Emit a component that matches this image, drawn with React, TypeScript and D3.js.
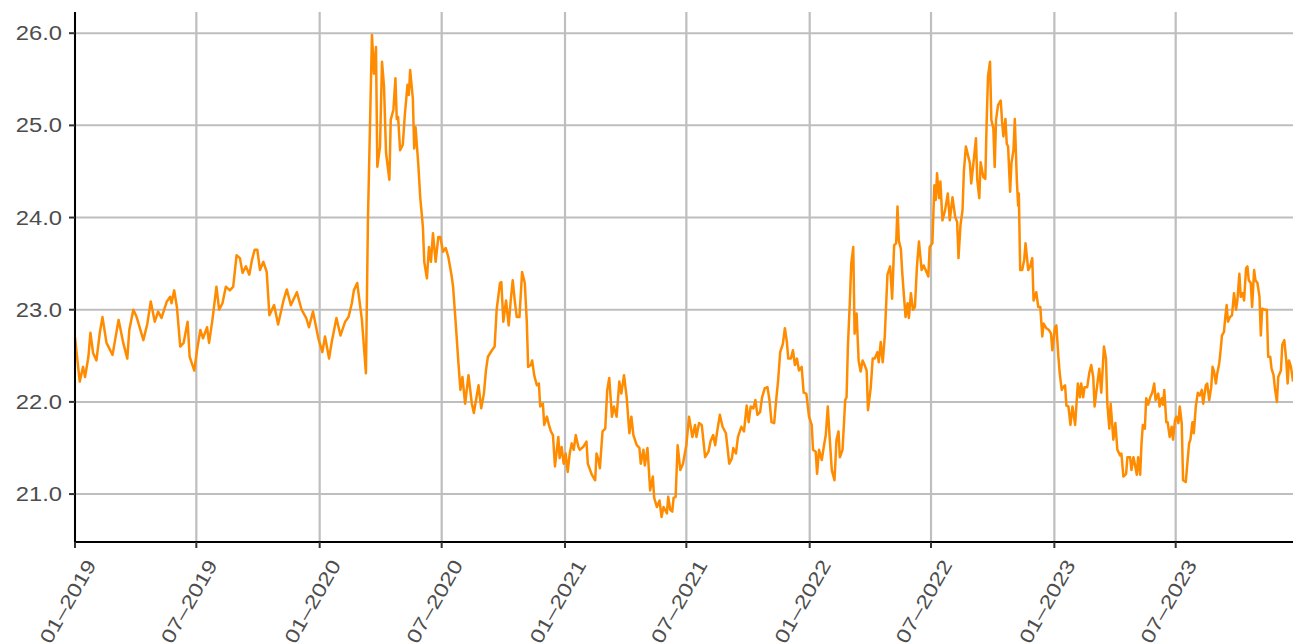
import React from "react";
import * as d3 from "d3";

// days since 2019-01-01
const dayOffsets: number[] = [
  0, 7, 12, 15, 20, 23, 27, 32, 37, 41, 47, 56, 65, 72, 78, 81, 87, 92, 102, 108,
  113, 119, 124, 129, 137, 142, 144, 148, 152, 157, 162, 168, 171, 178, 182, 187, 191, 197, 200, 205,
  211, 215, 220, 225, 231, 236, 241, 246, 250, 255, 260, 264, 268, 272, 276, 281, 286, 290, 297, 303,
  311, 316, 322, 331, 338, 345, 349, 355, 363, 369, 373, 379, 383, 390, 396, 403, 408, 413, 416, 421,
  428, 434, 437, 443, 446, 449, 451, 455, 458, 461, 464, 469, 471, 475, 478, 480, 482, 485, 489, 492,
  496, 498, 500, 504, 506, 508, 512, 515, 519, 521, 525, 528, 531, 534, 538, 542, 545, 549, 553, 557,
  562, 564, 568, 572, 575, 578, 582, 587, 592, 595, 602, 606, 610, 613, 616, 622, 626, 629, 634, 636,
  639, 643, 647, 650, 653, 656, 659, 663, 667, 671, 674, 676, 680, 682, 685, 689, 692, 694, 698, 700,
  704, 707, 710, 713, 716, 721, 723, 726, 729, 732, 735, 738, 741, 744, 747, 751, 753, 758, 763, 765,
  771, 776, 778, 781, 783, 787, 791, 794, 797, 801, 804, 808, 812, 815, 819, 823, 827, 830, 833, 838,
  842, 844, 848, 850, 854, 858, 862, 864, 868, 872, 875, 878, 883, 885, 888, 891, 893, 896, 899, 903,
  907, 912, 916, 921, 925, 927, 931, 935, 940, 945, 948, 952, 955, 958, 962, 966, 971, 976, 980, 982,
  986, 989, 994, 998, 1002, 1005, 1008, 1012, 1015, 1018, 1022, 1025, 1029, 1033, 1036, 1039, 1043, 1046, 1049, 1052,
  1056, 1059, 1062, 1064, 1068, 1071, 1074, 1077, 1080, 1084, 1087, 1091, 1095, 1099, 1101, 1105, 1107, 1110, 1114, 1117,
  1120, 1123, 1126, 1129, 1133, 1136, 1139, 1141, 1145, 1149, 1151, 1153, 1156, 1158, 1161, 1163, 1166, 1169, 1172, 1175,
  1178, 1181, 1183, 1187, 1190, 1193, 1197, 1199, 1202, 1205, 1208, 1212, 1216, 1219, 1222, 1225, 1227, 1229, 1232, 1234,
  1236, 1239, 1242, 1244, 1247, 1250, 1253, 1256, 1259, 1263, 1266, 1269, 1273, 1275, 1279, 1282, 1284, 1286, 1289, 1291,
  1294, 1298, 1302, 1305, 1309, 1313, 1316, 1318, 1321, 1324, 1326, 1329, 1332, 1335, 1337, 1341, 1344, 1346, 1349, 1351,
  1355, 1358, 1360, 1362, 1365, 1367, 1370, 1372, 1374, 1377, 1381, 1383, 1385, 1388, 1390, 1392, 1395, 1397, 1400, 1402,
  1405, 1407, 1408, 1410, 1413, 1416, 1418, 1422, 1425, 1428, 1430, 1434, 1437, 1440, 1443, 1445, 1449, 1453, 1456, 1458,
  1462, 1464, 1467, 1469, 1472, 1474, 1477, 1479, 1482, 1485, 1488, 1492, 1496, 1499, 1501, 1504, 1506, 1510, 1513, 1516,
  1519, 1521, 1524, 1528, 1531, 1535, 1538, 1540, 1543, 1545, 1549, 1552, 1555, 1559, 1561, 1564, 1568, 1570, 1574, 1576,
  1579, 1581, 1584, 1586, 1589, 1591, 1593, 1596, 1598, 1601, 1604, 1607, 1610, 1612, 1616, 1618, 1621, 1623, 1625, 1628,
  1630, 1633, 1636, 1638, 1641, 1643, 1646, 1648, 1651, 1653, 1657, 1659, 1662, 1664, 1667, 1669, 1672, 1675, 1678, 1681,
  1683, 1687, 1689, 1692, 1695, 1697, 1699, 1702, 1704, 1707, 1709, 1711, 1714, 1716, 1718, 1720, 1723, 1726, 1729, 1732,
  1734, 1737, 1739, 1742, 1744, 1747, 1749, 1751, 1754, 1756, 1759, 1761, 1764, 1767, 1769, 1771, 1775, 1778, 1780, 1783,
  1785, 1788, 1790, 1793, 1795, 1799, 1801, 1804, 1807, 1809, 1811, 1814, 1817,
];

const values: number[] = [
  22.70, 22.22, 22.38, 22.27, 22.49, 22.75, 22.53, 22.45, 22.75, 22.92, 22.64, 22.51, 22.89, 22.64, 22.47, 22.78, 23.00, 22.92, 22.67, 22.85,
  23.09, 22.87, 22.98, 22.91, 23.09, 23.14, 23.07, 23.21, 23.03, 22.60, 22.64, 22.87, 22.49, 22.34, 22.56, 22.78, 22.69, 22.81, 22.64, 22.89,
  23.25, 23.00, 23.07, 23.25, 23.21, 23.25, 23.59, 23.56, 23.40, 23.47, 23.38, 23.54, 23.65, 23.65, 23.43, 23.52, 23.41, 22.94, 23.05, 22.84,
  23.10, 23.22, 23.05, 23.19, 23.00, 22.91, 22.81, 22.98, 22.69, 22.54, 22.71, 22.47, 22.65, 22.91, 22.72, 22.87, 22.92, 23.07, 23.21, 23.29,
  22.89, 22.31, 23.97, 25.98, 25.56, 25.85, 24.55, 24.77, 25.69, 25.42, 24.70, 24.41, 25.06, 25.17, 25.51, 25.07, 25.09, 24.73, 24.79, 25.11,
  25.44, 25.33, 25.60, 25.29, 24.75, 24.98, 24.59, 24.22, 23.90, 23.52, 23.34, 23.68, 23.52, 23.83, 23.52, 23.79, 23.79, 23.63, 23.67, 23.57,
  23.36, 23.25, 22.85, 22.42, 22.13, 22.27, 21.98, 22.29, 21.98, 21.88, 22.18, 21.93, 22.09, 22.34, 22.49, 22.56, 22.60, 23.00, 23.29, 23.30,
  22.87, 23.10, 22.83, 23.10, 23.32, 23.10, 22.92, 22.92, 23.41, 23.29, 22.87, 22.38, 22.40, 22.45, 22.29, 22.18, 22.20, 21.95, 21.98, 21.75,
  21.84, 21.75, 21.68, 21.64, 21.30, 21.62, 21.39, 21.51, 21.33, 21.44, 21.24, 21.44, 21.55, 21.48, 21.64, 21.51, 21.48, 21.51, 21.57, 21.33,
  21.21, 21.15, 21.44, 21.37, 21.28, 21.68, 21.71, 22.13, 22.26, 21.84, 21.95, 21.84, 22.22, 22.09, 22.29, 22.05, 21.66, 21.84, 21.64, 21.53,
  21.50, 21.33, 21.48, 21.31, 21.50, 21.04, 21.19, 20.96, 20.86, 20.93, 20.75, 20.86, 20.79, 20.97, 20.83, 20.81, 20.96, 20.97, 21.53, 21.26,
  21.33, 21.53, 21.84, 21.62, 21.75, 21.62, 21.77, 21.75, 21.40, 21.46, 21.57, 21.64, 21.53, 21.68, 21.86, 21.73, 21.66, 21.33, 21.39, 21.50,
  21.44, 21.62, 21.73, 21.68, 21.96, 21.78, 21.95, 21.93, 22.02, 21.86, 21.89, 22.05, 22.15, 22.16, 22.02, 21.78, 21.77, 22.02, 22.24, 22.54,
  22.63, 22.80, 22.65, 22.47, 22.47, 22.56, 22.40, 22.47, 22.34, 22.38, 22.10, 22.09, 21.84, 21.75, 21.48, 21.46, 21.22, 21.48, 21.37, 21.51,
  21.64, 21.95, 21.59, 21.26, 21.15, 21.59, 21.68, 21.40, 21.48, 22.02, 22.05, 22.60, 23.10, 23.50, 23.68, 22.74, 22.96, 22.45, 22.33, 22.45,
  22.40, 22.34, 21.91, 22.15, 22.47, 22.47, 22.54, 22.43, 22.65, 22.43, 22.71, 23.38, 23.47, 23.12, 23.70, 23.72, 24.12, 23.75, 23.66, 23.41,
  23.21, 22.92, 23.07, 22.91, 23.18, 23.00, 23.03, 23.47, 23.74, 23.43, 23.48, 23.43, 23.36, 23.68, 23.72, 24.35, 24.19, 24.48, 24.21, 24.39,
  23.97, 24.08, 24.26, 23.97, 24.22, 24.01, 23.95, 23.56, 23.92, 24.08, 24.50, 24.77, 24.68, 24.59, 24.37, 24.64, 24.86, 24.41, 24.21, 24.60,
  24.44, 24.42, 25.04, 25.53, 25.69, 25.06, 24.97, 24.55, 25.06, 25.22, 25.27, 25.04, 24.88, 25.07, 24.80, 24.77, 24.28, 24.59, 24.73, 25.07,
  24.41, 24.13, 24.26, 23.43, 23.43, 23.54, 23.72, 23.43, 23.47, 23.56, 23.10, 23.19, 23.03, 23.03, 22.71, 22.85, 22.80, 22.78, 22.74, 22.56,
  22.81, 22.83, 22.49, 22.31, 22.13, 22.16, 22.18, 21.96, 21.95, 21.75, 21.95, 21.75, 22.20, 22.05, 22.20, 22.05, 22.16, 22.16, 22.31, 22.40,
  22.27, 21.95, 22.13, 22.36, 22.10, 22.60, 22.47, 21.98, 21.71, 21.98, 21.59, 21.77, 21.48, 21.42, 21.44, 21.19, 21.22, 21.40, 21.40, 21.26,
  21.40, 21.33, 21.21, 21.40, 21.21, 21.55, 21.75, 21.71, 22.04, 21.97, 22.05, 22.10, 22.20, 22.02, 22.09, 21.95, 22.04, 21.97, 22.13, 21.78,
  21.78, 21.62, 21.73, 21.59, 21.80, 21.84, 21.77, 21.95, 21.77, 21.15, 21.13, 21.30, 21.55, 21.59, 21.78, 21.66, 21.95, 22.10, 22.07, 22.13,
  21.98, 22.18, 22.20, 22.02, 22.16, 22.38, 22.34, 22.20, 22.31, 22.42, 22.56, 22.72, 22.76, 22.92, 23.05, 22.87, 22.92, 22.94, 23.18, 23.00,
  23.10, 23.39, 23.14, 23.18, 23.10, 23.45, 23.47, 23.32, 23.29, 23.03, 23.43, 23.32, 23.29, 23.14, 22.72, 23.01, 23.00, 23.00, 22.49, 22.49,
  22.36, 22.29, 22.15, 22.00, 22.27, 22.34, 22.62, 22.67, 22.45, 22.20, 22.45, 22.38, 22.22,
];

const startDate = Date.UTC(2019, 0, 1);
const endOffset = 1817;

const xTickDates: string[] = [
  "2019-01-01", "2019-07-01", "2020-01-01", "2020-07-01", "2021-01-01",
  "2021-07-01", "2022-01-01", "2022-07-01", "2023-01-01", "2023-07-01",
];
const xTickLabels: string[] = [
  "01–2019", "07–2019", "01–2020", "07–2020", "01–2021",
  "07–2021", "01–2022", "07–2022", "01–2023", "07–2023",
];
const yTicks: number[] = [21, 22, 23, 24, 25, 26];

const W = 1293;
const H = 644;
const left = 75;
const right = 1293;
const top = 12;
const bottom = 542;

const dayMs = 86400000;

export default function App() {
  const x = d3
    .scaleUtc()
    .domain([new Date(startDate), new Date(startDate + endOffset * dayMs)])
    .range([left, right]);
  const y = d3.scaleLinear().domain([20.48, 26.23]).range([bottom, top]);

  const pts = dayOffsets.map((d, i) => ({
    date: new Date(startDate + d * dayMs),
    v: values[i],
  }));
  const line = d3
    .line<{ date: Date; v: number }>()
    .x((p) => x(p.date))
    .y((p) => y(p.v));

  const ticks = xTickDates.map((s) => new Date(s + "T00:00:00Z"));
  const font = "'Liberation Sans', Arial, sans-serif";

  return (
    <svg
      width={W}
      height={H}
      style={{ position: "absolute", left: 0, top: 0, background: "#fff" }}
    >
      <rect x={0} y={0} width={W} height={H} fill="#fff" />
      <g>
        {yTicks.map((t) => (
          <line key={"hy" + t} x1={left} x2={right} y1={y(t)} y2={y(t)} stroke="#bebebe" strokeWidth={2} />
        ))}
        {ticks.map((t, i) => (
          <line key={"vx" + i} x1={x(t)} x2={x(t)} y1={top} y2={bottom} stroke="#bebebe" strokeWidth={2.2} />
        ))}
      </g>
      <path d={line(pts) || ""} fill="none" stroke="#ff8c00" strokeWidth={2.5} strokeLinejoin="round" />
      <line x1={left} x2={left} y1={top} y2={bottom + 1} stroke="#000" strokeWidth={2} />
      <line x1={left - 1} x2={right} y1={bottom} y2={bottom} stroke="#000" strokeWidth={2} />
      {yTicks.map((t) => (
        <g key={"yt" + t}>
          <line x1={left - 6} x2={left} y1={y(t)} y2={y(t)} stroke="#333" strokeWidth={2} />
          <text
            transform={`translate(${left - 13},${y(t)}) scale(1.22,1)`}
            dy="0.36em"
            textAnchor="end"
            fontFamily={font}
            fontSize={19.5}
            fill="#4d4d4d"
          >
            {d3.format(".1f")(t)}
          </text>
        </g>
      ))}
      {ticks.map((t, i) => (
        <g key={"xt" + i} transform={`translate(${x(t)},${bottom})`}>
          <line x1={0} x2={0} y1={0} y2={6} stroke="#333" strokeWidth={2} />
          <text
            transform="translate(10,16) rotate(-60) scale(1.22,1)"
            textAnchor="end"
            dy="0.7em"
            fontFamily={font}
            fontSize={19.5}
            fill="#4d4d4d"
          >
            {xTickLabels[i]}
          </text>
        </g>
      ))}
    </svg>
  );
}
